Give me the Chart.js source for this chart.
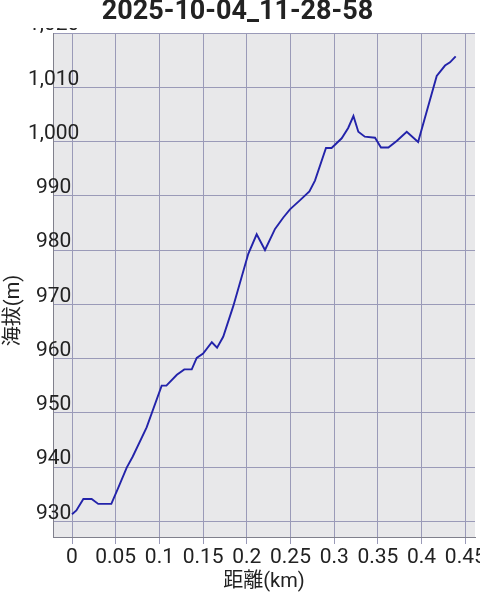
<!DOCTYPE html>
<html>
<head>
<meta charset="utf-8">
<script src="https://cdn.jsdelivr.net/npm/chart.js@4/dist/chart.umd.min.js"></script>
<style>
  html, body { margin: 0; padding: 0; background: #fff; }
  canvas { display: block; }
</style>
</head>
<body>
<canvas id="myChart" width="480" height="600"></canvas>
<script>
// dados
var chartTitle = '2025-10-04_11-28-58';
var distKm = [0, 0.005, 0.013, 0.0225, 0.03, 0.045, 0.053, 0.0626, 0.0694, 0.0854,
  0.1026, 0.108, 0.12, 0.1285, 0.137, 0.1427, 0.15, 0.16, 0.166, 0.173,
  0.1846, 0.2017, 0.2113, 0.2208, 0.2323, 0.2418, 0.2494, 0.261, 0.2716, 0.278,
  0.2906, 0.297, 0.3086, 0.316, 0.322, 0.3276, 0.335, 0.3467, 0.3535, 0.362,
  0.3715, 0.383, 0.396, 0.4173, 0.4268, 0.4325, 0.439];
var elevM = [931.3, 932, 934.1, 934.1, 933.2, 933.2, 936.2, 939.9, 941.9, 947.3,
  955, 955, 957, 958, 958, 960.1, 960.9, 963, 962, 964,
  969.7, 979.3, 982.9, 980, 983.9, 986, 987.5, 989.2, 990.8, 992.8,
  998.8, 998.8, 1000.6, 1002.5, 1004.7, 1001.8, 1000.9, 1000.7, 998.9, 998.9,
  1000.1, 1001.8, 999.9, 1012.1, 1014, 1014.6, 1015.7];
var xTicks = [0, 0.05, 0.1, 0.15, 0.2, 0.25, 0.3, 0.35, 0.4, 0.45];
var yTicks = [930, 940, 950, 960, 970, 980, 990, 1000, 1010, 1020];

var gridColor = '#9a9ab8';
var textColor = '#222';
var fontFam = "Roboto, 'Noto Sans CJK JP', sans-serif";

var points = distKm.map(function (d, i) {
  return { x: d, y: elevM[i] };
});

// fundo cinza da área do gráfico + corte do rótulo do topo
var plotBg = {
  id: 'plotBg',
  beforeDraw: function (chart) {
    var a = chart.chartArea, ctx = chart.ctx;
    ctx.save();
    ctx.fillStyle = '#e8e8ea';
    ctx.fillRect(a.left, a.top, a.right - a.left, a.bottom - a.top);
    ctx.restore();
  },
  afterDraw: function (chart) {
    var a = chart.chartArea, ctx = chart.ctx;
    ctx.save();
    ctx.fillStyle = '#fff';
    ctx.fillRect(0, 0, a.left + 30, a.top - 5);
    ctx.restore();
  }
};

var ctx = document.getElementById('myChart').getContext('2d');
var myChart = new Chart(ctx, {
  type: 'line',
  data: {
    datasets: [{
      data: points,
      borderColor: '#2323aa',
      borderWidth: 1.9,
      pointRadius: 0,
      tension: 0,
      fill: false
    }]
  },
  plugins: [plotBg],
  options: {
    responsive: false,
    animation: false,
    layout: { padding: { left: 0, right: 5, top: 0, bottom: 0 } },
    plugins: {
      legend: { display: false },
      tooltip: { enabled: false },
      title: {
        display: true,
        text: chartTitle,
        color: textColor,
        font: { family: fontFam, size: 27, weight: 'bold', lineHeight: 0.89 },
        padding: { top: 0, bottom: 9 }
      }
    },
    scales: {
      x: {
        type: 'linear',
        min: -0.02174,
        max: 0.4611,
        afterBuildTicks: function (axis) {
          axis.ticks = xTicks.map(function (v) { return { value: v }; });
        },
        afterFit: function (axis) {
          axis.height = 63;
          axis.paddingLeft = 0;
          axis.paddingRight = 0;
        },
        grid: { color: gridColor, drawTicks: true, tickLength: 7, tickColor: gridColor },
        border: { display: true, color: '#80808c' },
        ticks: {
          color: textColor,
          padding: 1,
          maxRotation: 0,
          autoSkip: false,
          font: { family: fontFam, size: 21 },
          callback: function (v) { return String(v); }
        },
        title: {
          display: true,
          text: '距離(km)',
          color: textColor,
          font: { family: fontFam, size: 20 },
          padding: { top: 0, bottom: 6 }
        }
      },
      y: {
        min: 927.1,
        max: 1020,
        afterBuildTicks: function (axis) {
          axis.ticks = yTicks.map(function (v) { return { value: v }; });
        },
        afterFit: function (axis) {
          axis.width = 53;
          axis.paddingTop = 0;
          axis.paddingBottom = 0;
        },
        grid: { color: gridColor, drawTicks: false },
        border: { display: true, color: '#80808c' },
        ticks: {
          color: textColor,
          mirror: true,
          padding: -25,
          crossAlign: 'center',
          labelOffset: -8,
          autoSkip: false,
          font: { family: fontFam, size: 21 },
          callback: function (v) { return v.toLocaleString('en-US'); }
        },
        title: {
          display: true,
          text: '海拔(m)\u2003\u2003\u2002',
          color: textColor,
          font: { family: fontFam, size: 20 },
          padding: { top: 2, bottom: 2 }
        }
      }
    }
  }
});
</script>
</body>
</html>
